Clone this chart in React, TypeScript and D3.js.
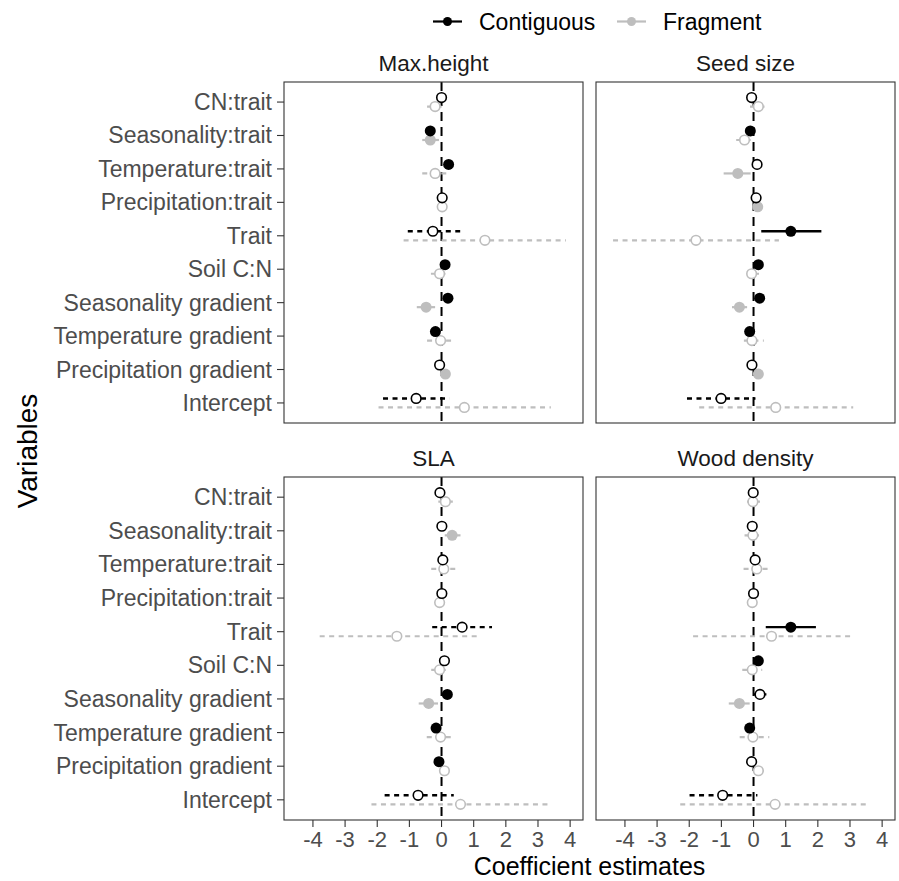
import React from "react";
import * as d3 from "d3";

const variables = [
  "CN:trait",
  "Seasonality:trait",
  "Temperature:trait",
  "Precipitation:trait",
  "Trait",
  "Soil C:N",
  "Seasonality gradient",
  "Temperature gradient",
  "Precipitation gradient",
  "Intercept",
];
const traits = ["Max.height", "Seed size", "SLA", "Wood density"];
const groups = ["Contiguous", "Fragment"];
const xTicks = [-4, -3, -2, -1, 0, 1, 2, 3, 4];

// [estimate, lower, upper] per variable (same order as `variables`)
const maxHeightContiguous = [
  [0.0, -0.06, 0.06], [-0.35, -0.45, -0.25], [0.22, 0.12, 0.32], [0.02, -0.05, 0.09],
  [-0.27, -1.05, 0.58], [0.11, 0.03, 0.19], [0.2, 0.1, 0.3], [-0.19, -0.28, -0.1],
  [-0.06, -0.14, 0.02], [-0.79, -1.82, 0.25],
];
const maxHeightFragment = [
  [-0.2, -0.45, 0.05], [-0.35, -0.6, -0.08], [-0.2, -0.6, 0.2], [0.02, -0.06, 0.1],
  [1.35, -1.18, 3.87], [-0.06, -0.33, 0.2], [-0.48, -0.77, -0.2], [-0.03, -0.45, 0.4],
  [0.12, 0.03, 0.21], [0.71, -1.96, 3.4],
];
const seedSizeContiguous = [
  [-0.06, -0.14, 0.02], [-0.1, -0.18, -0.02], [0.11, -0.03, 0.25], [0.08, -0.02, 0.18],
  [1.16, 0.24, 2.11], [0.15, 0.05, 0.25], [0.19, 0.09, 0.29], [-0.12, -0.22, -0.02],
  [-0.05, -0.13, 0.03], [-1.01, -2.07, 0.06],
];
const seedSizeFragment = [
  [0.15, -0.11, 0.4], [-0.28, -0.54, 0.01], [-0.49, -0.93, -0.09], [0.13, 0.04, 0.22],
  [-1.79, -4.37, 0.79], [-0.06, -0.2, 0.17], [-0.44, -0.67, -0.2], [-0.05, -0.3, 0.32],
  [0.15, 0.05, 0.25], [0.69, -1.69, 3.1],
];
const slaContiguous = [
  [-0.05, -0.13, 0.03], [0.01, -0.07, 0.09], [0.04, -0.05, 0.13], [0.01, -0.07, 0.09],
  [0.64, -0.29, 1.57], [0.09, -0.02, 0.2], [0.18, 0.08, 0.28], [-0.17, -0.27, -0.07],
  [-0.08, -0.15, -0.01], [-0.73, -1.77, 0.38],
];
const slaFragment = [
  [0.12, -0.1, 0.37], [0.33, 0.1, 0.59], [0.07, -0.32, 0.48], [-0.06, -0.15, 0.03],
  [-1.39, -3.79, 1.1], [-0.06, -0.32, 0.25], [-0.4, -0.71, -0.11], [-0.03, -0.46, 0.42],
  [0.09, -0.02, 0.2], [0.59, -2.18, 3.38],
];
const woodDensityContiguous = [
  [-0.01, -0.09, 0.07], [-0.04, -0.12, 0.04], [0.05, -0.05, 0.15], [0.0, -0.08, 0.08],
  [1.16, 0.38, 1.94], [0.15, 0.05, 0.25], [0.2, -0.01, 0.4], [-0.12, -0.22, -0.02],
  [-0.06, -0.15, 0.03], [-0.96, -1.99, 0.12],
];
const woodDensityFragment = [
  [-0.02, -0.2, 0.2], [-0.02, -0.28, 0.28], [0.1, -0.31, 0.51], [-0.04, -0.12, 0.04],
  [0.56, -1.88, 3.05], [-0.04, -0.35, 0.27], [-0.44, -0.77, -0.12], [-0.02, -0.43, 0.49],
  [0.15, -0.02, 0.32], [0.67, -2.28, 3.63],
];

const panelData = [
  [maxHeightContiguous, maxHeightFragment],
  [seedSizeContiguous, seedSizeFragment],
  [slaContiguous, slaFragment],
  [woodDensityContiguous, woodDensityFragment],
];

const groupColors = ["#000000", "#BEBEBE"];
const FONT = "'Liberation Sans', Arial, Helvetica, sans-serif";

const W = 899;
const H = 881;
const colX = [[284, 583], [596, 895]];
const rowY = [[82, 423], [477, 820]];

function Panel({ idx }: { idx: number }) {
  const col = idx % 2;
  const row = Math.floor(idx / 2);
  const [x0, x1] = colX[col];
  const [y0, y1] = rowY[row];
  const x = d3.scaleLinear().domain([-4.9, 4.4]).range([x0, x1]);
  const y = d3.scalePoint<string>().domain(variables).range([y0, y1]).padding(0.6);
  const dodge = y.step() * 0.135;
  const series = panelData[idx];
  const order = [1, 0];
  return (
    <g>
      <text
        x={(x0 + x1) / 2}
        y={y0 - 11.5}
        textAnchor="middle"
        fontSize={22.5}
        fill="#1A1A1A"
        fontFamily={FONT}
      >
        {traits[idx]}
      </text>
      <line
        x1={x(0)}
        x2={x(0)}
        y1={y0}
        y2={y1}
        stroke="#000"
        strokeWidth={2}
        strokeDasharray="9,6"
      />
      {order.map((gi) => {
        const off = gi === 0 ? -dodge : dodge;
        const color = groupColors[gi];
        return (
          <g key={gi}>
            {series[gi].map((d, i) => {
              const [est, lo, hi] = d;
              const sig = lo > 0 || hi < 0;
              const cy = (y(variables[i]) as number) + off;
              return (
                <g key={i}>
                  <line
                    x1={x(lo)}
                    x2={x(hi)}
                    y1={cy}
                    y2={cy}
                    stroke={color}
                    strokeWidth={gi === 0 ? 2.4 : 2.2}
                    strokeDasharray={sig ? undefined : "5,4.5"}
                  />
                  {sig ? (
                    <circle cx={x(est)} cy={cy} r={5.5} fill={color} />
                  ) : (
                    <circle
                      cx={x(est)}
                      cy={cy}
                      r={4.8}
                      fill="#fff"
                      stroke={color}
                      strokeWidth={1.6}
                    />
                  )}
                </g>
              );
            })}
          </g>
        );
      })}
      <rect
        x={x0}
        y={y0}
        width={x1 - x0}
        height={y1 - y0}
        fill="none"
        stroke="#333333"
        strokeWidth={1.1}
      />
      {col === 0 &&
        variables.map((v) => (
          <g key={v}>
            <line x1={x0 - 7} x2={x0} y1={y(v)} y2={y(v)} stroke="#333" strokeWidth={1.1} />
            <text
              x={x0 - 12}
              y={(y(v) as number) + 8}
              textAnchor="end"
              fontSize={23}
              fill="#4D4D4D"
              fontFamily={FONT}
            >
              {v}
            </text>
          </g>
        ))}
      {row === 1 &&
        xTicks.map((t) => (
          <g key={t}>
            <line x1={x(t)} x2={x(t)} y1={y1} y2={y1 + 7} stroke="#333" strokeWidth={1.1} />
            <text
              x={x(t)}
              y={y1 + 27}
              textAnchor="middle"
              fontSize={22}
              fill="#4D4D4D"
              fontFamily={FONT}
            >
              {t}
            </text>
          </g>
        ))}
    </g>
  );
}

export default function App() {
  const legendX = [433, 617];
  return (
    <svg
      width={W}
      height={H}
      style={{ position: "absolute", left: 0, top: 0, background: "#fff" }}
    >
      <rect x={0} y={0} width={W} height={H} fill="#fff" />
      {groups.map((g, gi) => (
        <g key={g}>
          <line
            x1={legendX[gi]}
            x2={legendX[gi] + 29}
            y1={21.5}
            y2={21.5}
            stroke={groupColors[gi]}
            strokeWidth={2.2}
          />
          <circle cx={legendX[gi] + 14.5} cy={21.5} r={4.5} fill={groupColors[gi]} />
          <text
            x={legendX[gi] + 46}
            y={30}
            fontSize={23}
            fill="#000"
            fontFamily={FONT}
          >
            {g}
          </text>
        </g>
      ))}
      {traits.map((t, i) => (
        <Panel key={t} idx={i} />
      ))}
      <text
        x={(colX[0][0] + colX[1][1]) / 2}
        y={874.5}
        textAnchor="middle"
        fontSize={25}
        fill="#000"
        fontFamily={FONT}
      >
        Coefficient estimates
      </text>
      <text
        transform={`translate(37, 451) rotate(-90)`}
        textAnchor="middle"
        fontSize={28}
        fill="#000"
        fontFamily={FONT}
      >
        Variables
      </text>
    </svg>
  );
}
